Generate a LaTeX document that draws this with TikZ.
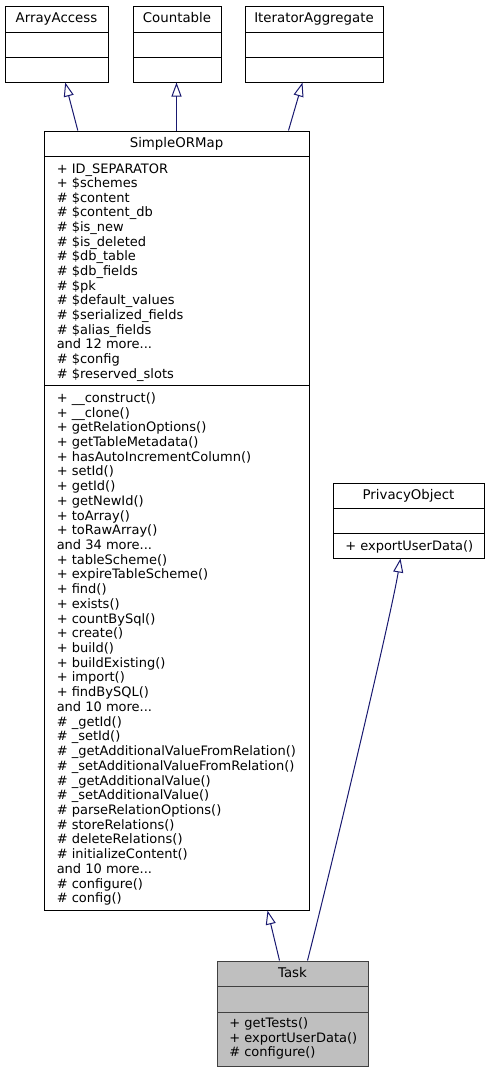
\documentclass[tikz,border=0pt]{standalone}
\usepackage{fontspec}
\setmainfont{DejaVu Sans}
\usetikzlibrary{arrows.meta,fit,calc}
\definecolor{edgeblue}{HTML}{191970}
\definecolor{taskfill}{HTML}{BFBFBF}
\definecolor{taskdraw}{HTML}{404040}
\newcommand{\andmore}[1]{and #1 more.{}.{}.}
\begin{document}
\begin{tikzpicture}[x=0.75pt,y=-0.75pt,
  box/.style={draw=black, line width=0.75pt, inner sep=0pt, fill=white},
  taskbox/.style={draw=taskdraw, line width=0.75pt, inner sep=0pt, fill=taskfill},
  sep/.style={draw=black, line width=0.75pt},
  tasksep/.style={draw=taskdraw, line width=0.75pt},
  lbl/.style={anchor=base west, inner sep=0pt, font=\fontsize{9.75pt}{12pt}\selectfont},
  ttl/.style={anchor=base, inner sep=0pt, font=\fontsize{10pt}{12pt}\selectfont},
  inherit/.style={draw=edgeblue, line width=0.75pt, -{Triangle[open,length=10.5pt,width=7.5pt]}}]
\useasboundingbox (0,0) rectangle (489,1072);

% ArrayAccess
\node[box, fit={(5,6)(108,82)}] (aa) {};
\draw[sep] (5,32) -- (108,32) (5,57) -- (108,57);
\node[ttl] (aaT) at (56.5,22.5) {ArrayAccess};

% Countable
\node[box, fit={(133,6)(221,82)}] (cnt) {};
\draw[sep] (133,32) -- (221,32) (133,57) -- (221,57);
\node[ttl] (cntT) at (177,22.5) {Countable};

% IteratorAggregate
\node[box, fit={(245,6)(383,82)}] (ia) {};
\draw[sep] (245,32) -- (383,32) (245,57) -- (383,57);
\node[ttl] (iaT) at (314,22.5) {IteratorAggregate};

% SimpleORMap
\node[box, fit={(44,131)(309,910)}] (smap) {};
\draw[sep] (44,156) -- (309,156) (44,385) -- (309,385);
\node[ttl] (smapT) at (176.5,147.5) {SimpleORMap};
\foreach \t [count=\i] in {{+ ID\_SEPARATOR}, {+ \$schemes}, {\# \$content}, {\# \$content\_db},
  {\# \$is\_new}, {\# \$is\_deleted}, {\# \$db\_table}, {\# \$db\_fields}, {\# \$pk},
  {\# \$default\_values}, {\# \$serialized\_fields}, {\# \$alias\_fields}, {\andmore{12}},
  {\# \$config}, {\# \$reserved\_slots}}
  \node[lbl] (sa\i) at (56.5,{173+14.65*(\i-1)}) {\t};
\foreach \t [count=\i] in {{+ \_\_construct()}, {+ \_\_clone()}, {+ getRelationOptions()},
  {+ getTableMetadata()}, {+ hasAutoIncrementColumn()}, {+ setId()}, {+ getId()}, {+ getNewId()},
  {+ toArray()}, {+ toRawArray()}, {\andmore{34}}, {+ tableScheme()}, {+ expireTableScheme()},
  {+ find()}, {+ exists()}, {+ countBySql()}, {+ create()}, {+ build()}, {+ buildExisting()},
  {+ import()}, {+ findBySQL()}, {\andmore{10}}, {\# \_getId()}, {\# \_setId()},
  {\# \_getAdditionalValueFromRelation()}, {\# \_setAdditionalValueFromRelation()},
  {\# \_getAdditionalValue()}, {\# \_setAdditionalValue()}, {\# parseRelationOptions()},
  {\# storeRelations()}, {\# deleteRelations()}, {\# initializeContent()}, {\andmore{10}},
  {\# configure()}, {\# config()}}
  \node[lbl] (sm\i) at (56.5,{402.3+14.72*(\i-1)}) {\t};

% PrivacyObject
\node[box, fit={(333,483)(484,558)}] (po) {};
\draw[sep] (333,508) -- (484,508) (333,533) -- (484,533);
\node[ttl] (poT) at (408.5,499.5) {PrivacyObject};
\node[lbl] (pom1) at (345,550.5) {+ exportUserData()};

% Task
\node[taskbox, fit={(217,961)(368,1066)}] (task) {};
\draw[tasksep] (217,986) -- (368,986) (217,1012) -- (368,1012);
\node[ttl] (taskT) at (292.5,977.5) {Task};
\foreach \t [count=\i] in {{+ getTests()}, {+ exportUserData()}, {\# configure()}}
  \node[lbl] (tm\i) at (229,{1027.5+14.5*(\i-1)}) {\t};

% inheritance edges
\draw[inherit] ($(smap.north west)+(34.3,0)$) -- ($(aa.south west)+(60.7,0)$);
\draw[inherit] ($(smap.north west)+(133,0)$) -- ($(cnt.south west)+(44,0)$);
\draw[inherit] ($(smap.north west)+(245,0)$) -- ($(ia.south west)+(58,0)$);
\draw[inherit] ($(task.north west)+(63,0)$) -- ($(smap.south west)+(224,0)$);
\draw[inherit] ($(task.north west)+(91,0)$) .. controls ($(task.north west)+(114,-90)$) and ($(po.south west)+(58,60)$) .. ($(po.south west)+(68,0)$);
\end{tikzpicture}
\end{document}
